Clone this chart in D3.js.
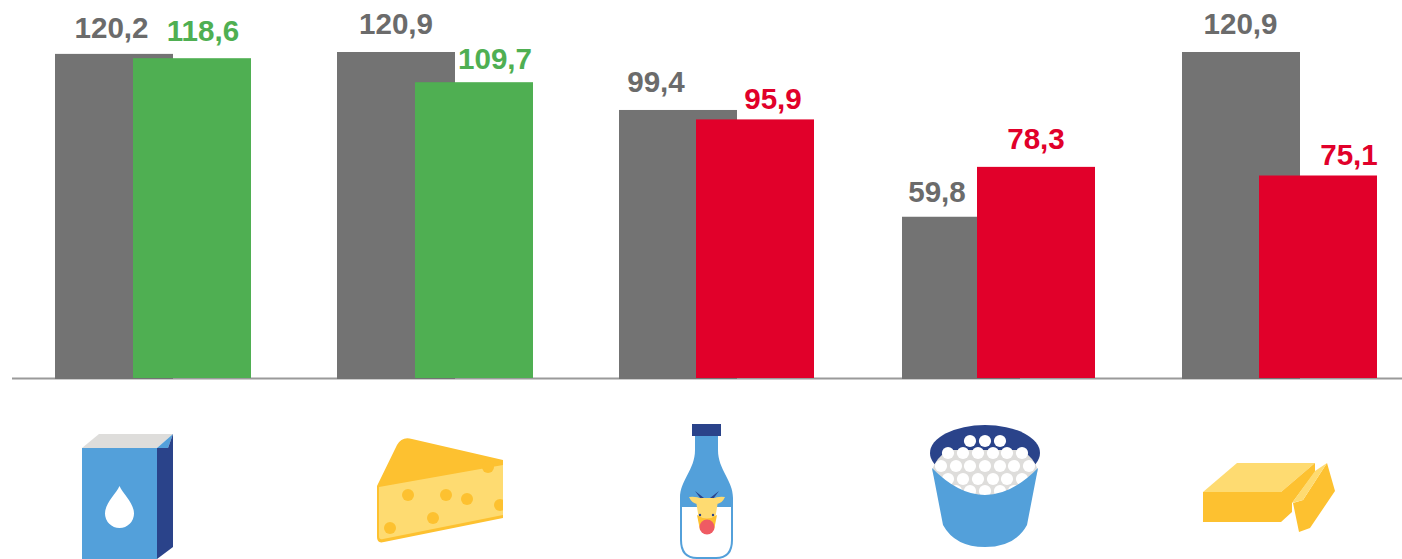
<!DOCTYPE html>
<html>
<head>
<meta charset="utf-8">
<script src="https://cdn.jsdelivr.net/npm/d3@7"></script>
<style>
html,body{margin:0;padding:0;background:#fff;overflow:hidden}
svg{display:block}
text{font-family:"Liberation Sans",Arial,sans-serif;font-weight:700;font-size:29.6px;text-anchor:middle}
</style>
</head>
<body>
<svg id="c" width="1402" height="559"></svg>
<script>
const categories = ["Молоко","Сыр","Кефир","Творог","Масло"];
const previous = [120.2,120.9,99.4,59.8,120.9];
const current = [118.6,109.7,95.9,78.3,75.1];
const previousLabels = ["120,2","120,9","99,4","59,8","120,9"];
const currentLabels = ["118,6","109,7","95,9","78,3","75,1"];
const currentColors = ["#4FAF52","#4FAF52","#E1002A","#E1002A","#E1002A"];

const W = 1402, H = 559, base = 378, barW = 118;
const svg = d3.select("#c");
const y = d3.scaleLinear().domain([0,120.9]).range([base,52]);
const xPrev = d3.scaleOrdinal(categories,[55,337,619,902,1182]);
const xCurr = d3.scaleOrdinal(categories,[133,415,696,977,1259]);
const lblPrev = d3.scaleOrdinal(categories,[111.5,396,656,937,1240.5]);
const lblCurr = d3.scaleOrdinal(categories,[203,495,773,1036,1349]);
const lblPrevY = d3.scaleOrdinal(categories,[38,34,92,202,34]);
const lblCurrY = d3.scaleOrdinal(categories,[41,69,109,149,165]);

svg.append("line").attr("x1",12).attr("x2",W).attr("y1",base+0.5).attr("y2",base+0.5)
  .attr("stroke","#9a9a9a").attr("stroke-width",2);

svg.selectAll(".p").data(categories).join("rect").attr("class","p")
  .attr("x",d=>xPrev(d)).attr("width",barW)
  .attr("y",(d,i)=>y(previous[i])).attr("height",(d,i)=>base+1-y(previous[i]))
  .attr("fill","#737373");
svg.selectAll(".q").data(categories).join("rect").attr("class","q")
  .attr("x",d=>xCurr(d)).attr("width",barW)
  .attr("y",(d,i)=>y(current[i])).attr("height",(d,i)=>base-y(current[i]))
  .attr("fill",(d,i)=>currentColors[i]);
svg.selectAll(".lp").data(categories).join("text").attr("class","lp")
  .attr("x",d=>lblPrev(d)).attr("y",d=>lblPrevY(d))
  .attr("fill","#6b6b6b").text((d,i)=>previousLabels[i]);
svg.selectAll(".lq").data(categories).join("text").attr("class","lq")
  .attr("x",d=>lblCurr(d)).attr("y",d=>lblCurrY(d))
  .attr("fill",(d,i)=>currentColors[i]).text((d,i)=>currentLabels[i]);

const BLUE="#53A0DA", NAVY="#2A438A", YEL="#FDC130", PALE="#FEDB71", LG="#DEDDDB";
const path=(g,d,f)=>g.append("path").attr("d",d).attr("fill",f);
const circ=(g,x,y,r,f)=>g.append("circle").attr("cx",x).attr("cy",y).attr("r",r).attr("fill",f);

// carton
const a=svg.append("g");
path(a,"M82,448L99,434H173L157,448Z",LG);
path(a,"M157,448L173,434L168,448Z",BLUE);
path(a,"M157,448L168,448L173,434V547L157,559Z",NAVY);
a.append("rect").attr("x",82).attr("y",448).attr("width",75).attr("height",111).attr("fill",BLUE);
path(a,"M119.5,486C123,494 134,503 134,513.5A14.5,14.5 0 0 1 105,513.5C105,503 116,494 119.5,486Z","#fff");

// cheese
const b=svg.append("g");
path(b,"M377,486L397,445Q402,436 412,439L503,460V518L384,542Q377,544 377,537Z",YEL);
path(b,"M379,487L503,465V515L383,539Q379,540 379,536Z",PALE);
[[408,495],[446,495],[467,499],[488,467],[500,505],[433,518],[390,528]].forEach(p=>circ(b,p[0],p[1],6,YEL));
b.append("rect").attr("x",503).attr("y",455).attr("width",8).attr("height",60).attr("fill","#fff");

// bottle
const c=svg.append("g");
const bottle="M695,436H718V450C718,470 733,480 733,498V540Q733,559 716,559H697Q680,559 680,540V498C680,480 695,470 695,450Z";
path(c,bottle,BLUE);
path(c,"M682,507H731V540Q731,557 716,557H697Q682,557 682,540Z","#fff");
c.append("rect").attr("x",692).attr("y",424).attr("width",29).attr("height",12).attr("fill",NAVY);
path(c,"M695,491L704,498L701,499Z",NAVY);
path(c,"M719,491L710,498L713,499Z",NAVY);
path(c,"M689,497Q696,496 702,499H712Q718,496 725,497Q722,504 716,504H698Q692,504 689,497Z",PALE);
path(c,"M696,501Q696,498 702,498H712Q718,498 718,501L714,526H700Z",PALE);
path(c,"M697,515Q707,522 717,515L714,530H700Z",YEL);
circ(c,707,527,7.5,"#EF5B63");
circ(c,700,515,1.2,NAVY);circ(c,713,515,1.2,NAVY);

// bucket
const d_=svg.append("g");
d_.append("ellipse").attr("cx",985).attr("cy",453).attr("rx",55).attr("ry",28).attr("fill",NAVY);
path(d_,"M932,470Q936,458 948,450H1022Q1034,458 1038,470L1030,495H940Z",LG);
[[[970,985,1000],441],[[948,963,978,993,1007,1022],453],[[941,956,970,985,1000,1014,1029],466],[[948,963,978,993,1007,1022],479],[[956,970,985,1000,1014],491]]
  .forEach(r=>r[0].forEach(x=>circ(d_,x,r[1],6.1,"#fff")));
path(d_,"M932,468Q985,522 1038,468L1027,525Q1015,547 985,547Q955,547 943,525Z",BLUE);

// butter
const e=svg.append("g");
path(e,"M1203,492L1237,463H1315L1281,492Z",PALE);
e.append("rect").attr("x",1203).attr("y",492).attr("width",78).attr("height",30).attr("fill",YEL);
path(e,"M1281,492L1315,463V472L1292,503V512L1281,522Z",YEL);
path(e,"M1327,463L1335,491L1310,528L1299,532L1293,503L1303,500Z",YEL);
path(e,"M1292,503L1315,471L1327,463L1303,500Z",PALE);
</script>
</body>
</html>
